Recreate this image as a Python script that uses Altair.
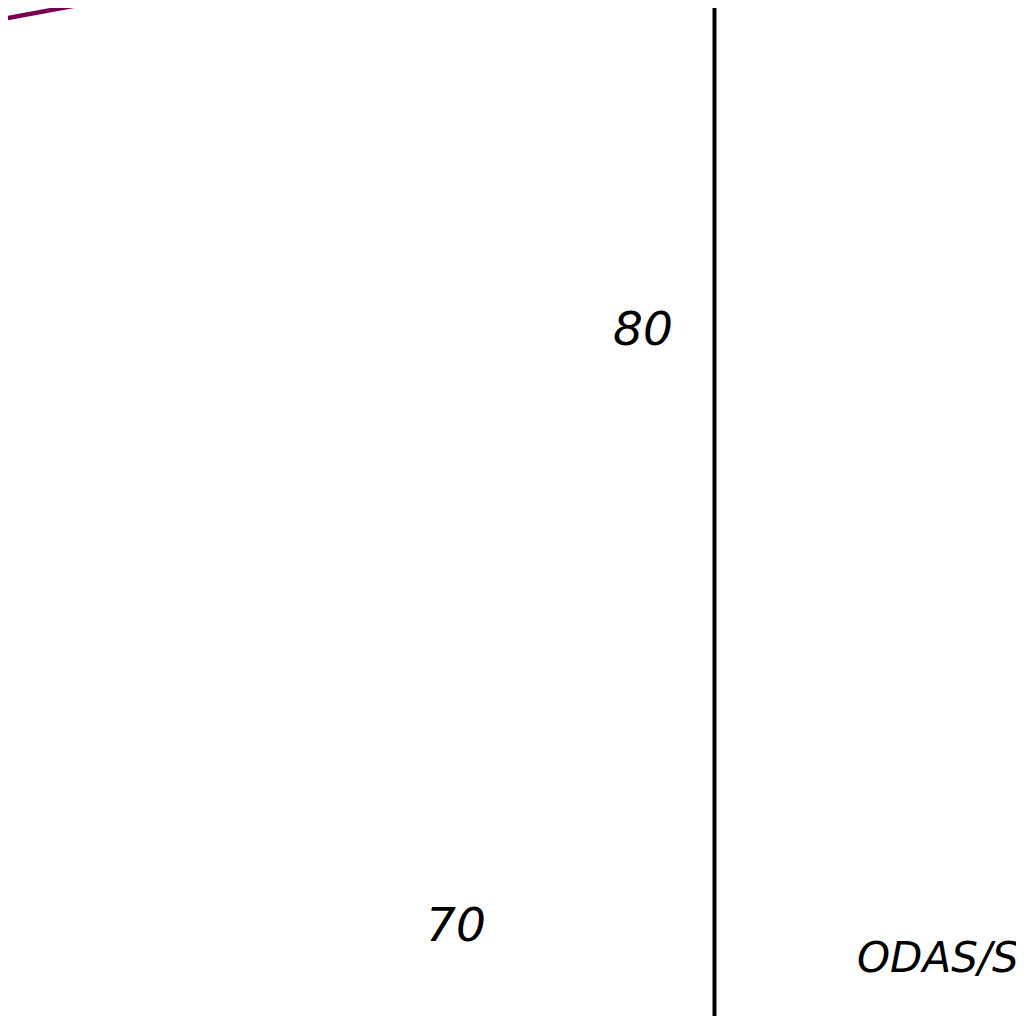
import altair as alt
import pandas as pd

# Screen-like coordinate frame of the cropped map view
x_domain = [8, 1016]
y_domain = [8, 1016]

# Purple contour segment (enters at the top-left corner)
line_x = [0, 100]
line_y = [19.5, 1]

# Vertical frame / meridian line
rule_x = [714.5]
rule_y_top = [8]
rule_y_bottom = [1016]

# Latitude labels
lat_labels = ["80", "70"]
lat_x = [643, 456]
lat_y = [331, 927]

# Station label (runs off the right edge)
station_labels = ["ODAS/S"]
station_x = [857]
station_y = [972]

xs = alt.Scale(domain=x_domain, nice=False, zero=False)
ys = alt.Scale(domain=y_domain, nice=False, zero=False, reverse=True)

line_df = pd.DataFrame({"x": line_x, "y": line_y})
rule_df = pd.DataFrame({"x": rule_x, "y": rule_y_top, "y2": rule_y_bottom})
lat_df = pd.DataFrame({"label": lat_labels, "x": lat_x, "y": lat_y})
st_df = pd.DataFrame({"label": station_labels, "x": station_x, "y": station_y})

line = alt.Chart(line_df).mark_line(color="#780052", strokeWidth=4.5, clip=True).encode(
    x=alt.X("x:Q", scale=xs, axis=None),
    y=alt.Y("y:Q", scale=ys, axis=None),
)

rule = alt.Chart(rule_df).mark_rule(color="black", strokeWidth=4).encode(
    x=alt.X("x:Q", scale=xs, axis=None),
    y=alt.Y("y:Q", scale=ys, axis=None),
    y2="y2:Q",
)

lat_text = alt.Chart(lat_df).mark_text(
    font="DejaVu Sans", fontStyle="italic", fontSize=47, color="black",
    align="center", baseline="middle",
).encode(
    x=alt.X("x:Q", scale=xs, axis=None),
    y=alt.Y("y:Q", scale=ys, axis=None),
    text="label:N",
)

st_text = alt.Chart(st_df).mark_text(
    font="DejaVu Sans", fontStyle="italic", fontSize=42, color="black",
    align="left", baseline="alphabetic",
).encode(
    x=alt.X("x:Q", scale=xs, axis=None),
    y=alt.Y("y:Q", scale=ys, axis=None),
    text="label:N",
)

chart = alt.layer(line, rule, lat_text, st_text).properties(
    width=1008, height=1008, padding=0, autosize=alt.AutoSizeParams(type="none"),
    background="white",
).configure_view(strokeWidth=0)

chart.save("out.html", embed_options={"renderer": "svg", "actions": False})
